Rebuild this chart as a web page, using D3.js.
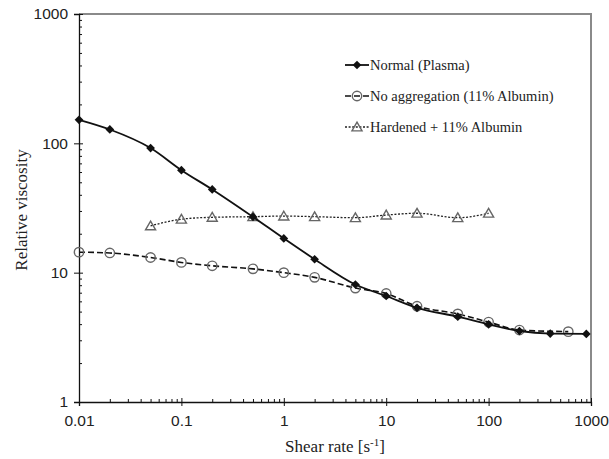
<!DOCTYPE html>
<meta charset="utf-8">
<style>
    body { margin: 0; background: #fff; }
    svg { font-family: "Liberation Serif", "Times New Roman", serif; }
    .tick text { font-size: 15.5px; fill: #222; }
    .legend text { font-size: 14.5px; fill: #222; }
</style>
<body>
<svg></svg>
</body>
<script src="https://d3js.org/d3.v7.min.js"></script>
<script>
    // shear rate [1/s] and relative viscosity
    var normalX = [0.01, 0.02, 0.05, 0.1, 0.2, 0.5, 1, 2, 5, 10, 20, 50, 100, 200, 400, 900];
    var normalY = [152, 128, 92, 62, 44, 27, 18.4, 12.7, 8.1, 6.6, 5.35, 4.57, 3.99, 3.54, 3.38, 3.36];

    var noAggX = [0.01, 0.02, 0.05, 0.1, 0.2, 0.5, 1, 2, 5, 10, 20, 50, 100, 200, 600];
    var noAggY = [14.4, 14.2, 13.1, 12.0, 11.3, 10.7, 10.0, 9.2, 7.6, 6.9, 5.5, 4.8, 4.15, 3.6, 3.5];

    var hardX = [0.05, 0.1, 0.2, 0.5, 1, 2, 5, 10, 20, 50, 100];
    var hardY = [23.0, 25.9, 26.8, 27.1, 27.4, 27.1, 26.6, 27.9, 28.8, 26.6, 28.8];

    var xTicks = [0.01, 0.1, 1, 10, 100, 1000];
    var xTickLabels = ["0.01", "0.1", "1", "10", "100", "1000"];
    var yTicks = [1, 10, 100, 1000];
    var yTickLabels = ["1", "10", "100", "1000"];

    var seriesNames = ["Normal (Plasma)", "No aggregation (11% Albumin)", "Hardened + 11% Albumin"];

    var width = 609, height = 459;
    var plotL = 79, plotR = 591, plotT = 14, plotB = 402;

    var svg = d3.select("svg")
        .attr("width", width)
        .attr("height", height);

    var x = d3.scaleLog().domain([0.01, 1000]).range([plotL, plotR]);
    var y = d3.scaleLog().domain([1, 1000]).range([plotB, plotT]);

    // minor tick values (2..9 in each decade)
    function minors(lo, hi) {
        var out = [];
        for (var p = lo; p < hi; p *= 10) {
            for (var k = 2; k <= 9; k++) out.push(+(p * k).toPrecision(3));
        }
        return out;
    }

    // frame (top and right, grey)
    svg.append("path")
        .attr("d", "M" + plotL + "," + plotT + "H" + plotR + "V" + plotB)
        .attr("fill", "none")
        .attr("stroke", "#8a8a8a")
        .attr("stroke-width", 2);

    // y axis
    var yAxis = svg.append("g")
        .attr("transform", "translate(" + plotL + ",0)")
        .call(d3.axisLeft(y).tickValues(yTicks).tickSize(5).tickPadding(6)
            .tickFormat(function (d, i) { return yTickLabels[i]; }));
    yAxis.select(".domain").attr("stroke", "#111").attr("stroke-width", 1.3);
    yAxis.selectAll(".tick line").attr("stroke", "#111");

    svg.append("g")
        .attr("transform", "translate(" + plotL + ",0)")
        .call(d3.axisRight(y).tickValues(yTicks).tickSize(4).tickFormat(""))
        .call(function (g) { g.select(".domain").remove(); })
        .selectAll("line").attr("stroke", "#111");

    svg.append("g")
        .attr("transform", "translate(" + plotL + ",0)")
        .call(d3.axisRight(y).tickValues(minors(1, 1000)).tickSize(3).tickFormat(""))
        .call(function (g) { g.select(".domain").remove(); })
        .selectAll("line").attr("stroke", "#111");

    // x axis
    var xAxis = svg.append("g")
        .attr("transform", "translate(0," + plotB + ")")
        .call(d3.axisBottom(x).tickValues(xTicks).tickSize(4).tickPadding(9)
            .tickFormat(function (d, i) { return xTickLabels[i]; }));
    xAxis.select(".domain").attr("stroke", "#111").attr("stroke-width", 1.3);
    xAxis.selectAll(".tick line").attr("stroke", "#111");

    svg.append("g")
        .attr("transform", "translate(0," + plotB + ")")
        .call(d3.axisTop(x).tickValues(xTicks).tickSize(4).tickFormat(""))
        .call(function (g) { g.select(".domain").remove(); })
        .selectAll("line").attr("stroke", "#111");

    svg.append("g")
        .attr("transform", "translate(0," + plotB + ")")
        .call(d3.axisTop(x).tickValues(minors(0.01, 1000)).tickSize(3).tickFormat(""))
        .call(function (g) { g.select(".domain").remove(); })
        .selectAll("line").attr("stroke", "#111");

    // axis titles
    var xTitle = svg.append("text")
        .attr("x", 335)
        .attr("y", 452)
        .attr("text-anchor", "middle")
        .attr("font-size", 17)
        .attr("fill", "#222")
        .text("Shear rate [s");
    xTitle.append("tspan").attr("dy", -6).attr("font-size", 11).text("-1");
    xTitle.append("tspan").attr("dy", 6).text("]");

    svg.append("text")
        .attr("transform", "translate(27,210) rotate(-90)")
        .attr("text-anchor", "middle")
        .attr("font-size", 17)
        .attr("fill", "#222")
        .text("Relative viscosity");

    var line = d3.line()
        .x(function (d) { return x(d[0]); })
        .y(function (d) { return y(d[1]); })
        .curve(d3.curveMonotoneX);

    var series = [
        {xs: normalX, ys: normalY, dash: null, width: 1.8, stroke: "#111", marker: "diamond"},
        {xs: noAggX, ys: noAggY, dash: "6,3", width: 1.6, stroke: "#111", marker: "circle"},
        {xs: hardX, ys: hardY, dash: "2,1.6", width: 1.3, stroke: "#222", marker: "triangle"}
    ];

    var diamond = d3.symbol().type(d3.symbolSquare).size(38);
    var triangle = d3.symbol().type(d3.symbolTriangle).size(44);

    function drawMarker(g, type) {
        if (type === "diamond") {
            g.append("path").attr("d", diamond()).attr("transform", "rotate(45)")
                .attr("fill", "#111");
        } else if (type === "circle") {
            g.append("circle").attr("r", 4.7)
                .attr("fill", "none").attr("stroke", "#666").attr("stroke-width", 1.4);
        } else {
            g.append("path").attr("d", triangle()).attr("transform", "translate(0,1)")
                .attr("fill", "none").attr("stroke", "#666").attr("stroke-width", 1.4);
        }
    }

    // draw in reverse so Normal sits on top
    series.slice().reverse().forEach(function (s) {
        var pts = s.xs.map(function (v, i) { return [v, s.ys[i]]; });
        svg.append("path")
            .datum(pts)
            .attr("d", line)
            .attr("fill", "none")
            .attr("stroke", s.stroke)
            .attr("stroke-width", s.width)
            .attr("stroke-dasharray", s.dash);
        svg.append("g").selectAll("g")
            .data(pts)
            .enter().append("g")
            .attr("transform", function (d) { return "translate(" + x(d[0]) + "," + y(d[1]) + ")"; })
            .each(function () { drawMarker(d3.select(this), s.marker); });
    });

    // legend
    var legend = svg.append("g").attr("class", "legend");
    var legendY = [65, 96, 127];
    series.forEach(function (s, i) {
        var row = legend.append("g").attr("transform", "translate(345," + legendY[i] + ")");
        row.append("line")
            .attr("x1", 0).attr("x2", 24)
            .attr("stroke", s.stroke)
            .attr("stroke-width", s.width)
            .attr("stroke-dasharray", s.dash);
        drawMarker(row.append("g").attr("transform", "translate(12,0)"), s.marker);
        row.append("text")
            .attr("x", 25)
            .attr("dy", "0.35em")
            .text(seriesNames[i]);
    });
</script>
</html>
